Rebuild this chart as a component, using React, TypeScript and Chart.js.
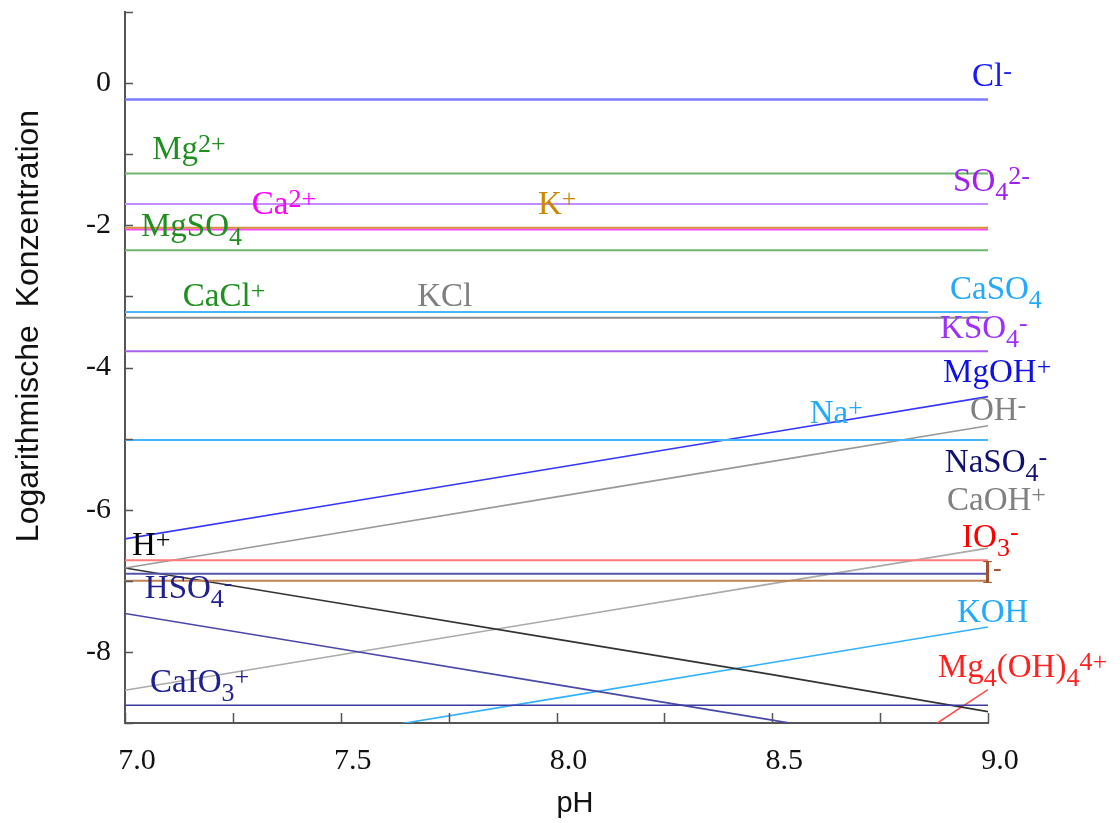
import React, { useEffect, useRef } from 'react';
import { Chart, registerables } from 'chart.js';

Chart.register(...registerables);

// ---------- data ----------
const pH = [7.0, 7.5, 8.0, 8.5, 9.0];
const xTickLabels = ['7.0', '7.5', '8.0', '8.5', '9.0'];
const yTickLabels = ['0', '-2', '-4', '-6', '-8'];

const clMinus = [-0.23, -0.23, -0.23, -0.23, -0.23];
const mg2Plus = [-1.27, -1.27, -1.27, -1.27, -1.27];
const so4_2Minus = [-1.7, -1.7, -1.7, -1.7, -1.7];
const kPlus = [-2.035, -2.035, -2.035, -2.035, -2.035];
const ca2Plus = [-2.06, -2.06, -2.06, -2.06, -2.06];
const mgSO4 = [-2.35, -2.35, -2.35, -2.35, -2.35];
const caSO4 = [-3.22, -3.22, -3.22, -3.22, -3.22];
const kCl = [-3.3, -3.3, -3.3, -3.3, -3.3];
const kSO4Minus = [-3.77, -3.77, -3.77, -3.77, -3.77];
const naPlus = [-5.02, -5.02, -5.02, -5.02, -5.02];
const io3Minus = [-6.71, -6.71, -6.71, -6.71, -6.71];
const naSO4Minus = [-6.9, -6.9, -6.9, -6.9, -6.9];
const iMinus = [-7.0, -7.0, -7.0, -7.0, -7.0];
const caIO3Plus = [-8.75, -8.75, -8.75, -8.75, -8.75];
const mgOHPlus = [-6.41, -5.91, -5.41, -4.91, -4.41];
const ohMinus = [-6.82, -6.32, -5.82, -5.32, -4.82];
const hPlus = [-6.82, -7.32, -7.82, -8.32, -8.84];
const hso4Minus = [-7.46, -7.96, -8.46, -8.96, -9.46];
const caOHPlus = [-8.54, -8.04, -7.54, -7.04, -6.54];
const kOH = [-9.65, -9.15, -8.65, -8.15, -7.65];
const mg4OH4 = [null, null, null, -10.53, -8.53];

// ---------- series styling ----------
const series = [
  { name: 'Cl-', data: clMinus, color: '#7b7bff', width: 2.5 },
  { name: 'Mg2+', data: mg2Plus, color: '#6fb46f', width: 2 },
  { name: 'SO4 2-', data: so4_2Minus, color: '#c38cff', width: 2 },
  { name: 'K+', data: kPlus, color: '#d4903a', width: 2 },
  { name: 'Ca2+', data: ca2Plus, color: '#ff44ff', width: 2 },
  { name: 'MgSO4', data: mgSO4, color: '#6fb46f', width: 2 },
  { name: 'KCl', data: kCl, color: '#8a8a8a', width: 2 },
  { name: 'CaSO4', data: caSO4, color: '#4ab4ff', width: 2 },
  { name: 'KSO4-', data: kSO4Minus, color: '#a860f0', width: 2 },
  { name: 'Na+', data: naPlus, color: '#44b4ff', width: 2 },
  { name: 'IO3-', data: io3Minus, color: '#ff7a7a', width: 2 },
  { name: 'NaSO4-', data: naSO4Minus, color: '#5555aa', width: 2 },
  { name: 'I-', data: iMinus, color: '#c0804f', width: 2 },
  { name: 'CaIO3+', data: caIO3Plus, color: '#3a3aa0', width: 1.5 },
  { name: 'MgOH+', data: mgOHPlus, color: '#3535ff', width: 1.6 },
  { name: 'OH-', data: ohMinus, color: '#999999', width: 1.6 },
  { name: 'H+', data: hPlus, color: '#333333', width: 1.6 },
  { name: 'HSO4-', data: hso4Minus, color: '#4848a8', width: 1.6 },
  { name: 'CaOH+', data: caOHPlus, color: '#aaaaaa', width: 1.6 },
  { name: 'KOH', data: kOH, color: '#33b0ff', width: 1.6 },
  { name: 'Mg4(OH)4 4+', data: mg4OH4, color: '#ff4a4a', width: 1.6 },
];

// ---------- species labels (markup: _{sub} ^{sup}), anchored left/baseline in data units ----------
const speciesLabels = [
  { text: 'Mg^{2+}', x: 7.063, y: -1.066, color: '#1f8f1f' },
  { text: 'Ca^{2+}', x: 7.294, y: -1.84, color: '#ff00ff' },
  { text: 'K^{+}', x: 7.957, y: -1.84, color: '#cc8800' },
  { text: 'MgSO_{4}', x: 7.037, y: -2.147, color: '#1f8f1f' },
  { text: 'CaCl^{+}', x: 7.134, y: -3.13, color: '#1f8f1f' },
  { text: 'KCl', x: 7.677, y: -3.13, color: '#808080' },
  { text: 'Cl^{-}', x: 8.963, y: -0.04, color: '#1a1aff' },
  { text: 'SO_{4}^{2-}', x: 8.919, y: -1.516, color: '#a020f0' },
  { text: 'CaSO_{4}', x: 8.912, y: -3.03, color: '#22aaff' },
  { text: 'KSO_{4}^{-}', x: 8.889, y: -3.59, color: '#9b30ff' },
  { text: 'MgOH^{+}', x: 8.896, y: -4.21, color: '#1010e0' },
  { text: 'Na^{+}', x: 8.587, y: -4.786, color: '#22aaff' },
  { text: 'OH^{-}', x: 8.958, y: -4.74, color: '#808080' },
  { text: 'NaSO_{4}^{-}', x: 8.9, y: -5.47, color: '#101070' },
  { text: 'CaOH^{+}', x: 8.905, y: -6.007, color: '#808080' },
  { text: 'IO_{3}^{-}', x: 8.94, y: -6.53, color: '#ff0000' },
  { text: 'I^{-}', x: 8.986, y: -7.03, color: '#a0522d' },
  { text: 'KOH', x: 8.928, y: -7.58, color: '#22aaff' },
  { text: 'Mg_{4}(OH)_{4}^{4+}', x: 8.884, y: -8.35, color: '#ff2020' },
  { text: 'H^{+}', x: 7.016, y: -6.64, color: '#000000' },
  { text: 'HSO_{4}^{-}', x: 7.046, y: -7.24, color: '#202090' },
  { text: 'CaIO_{3}^{+}', x: 7.058, y: -8.56, color: '#202090' },
];

const xTitle = 'pH';
const yTitle = 'Logarithmische  Konzentration';

const SERIF = '"Liberation Serif", "Times New Roman", serif';
const SANS = '"Liberation Sans", Arial, sans-serif';

type Seg = { text: string; kind: 'n' | 'sub' | 'sup' };
function parseMarkup(s: string): Seg[] {
  const segs: Seg[] = [];
  let cur = '';
  let i = 0;
  while (i < s.length) {
    const c = s[i];
    if ((c === '_' || c === '^') && s[i + 1] === '{') {
      if (cur) { segs.push({ text: cur, kind: 'n' }); cur = ''; }
      const end = s.indexOf('}', i);
      segs.push({ text: s.slice(i + 2, end), kind: c === '_' ? 'sub' : 'sup' });
      i = end + 1;
    } else {
      cur += c;
      i++;
    }
  }
  if (cur) segs.push({ text: cur, kind: 'n' });
  return segs;
}

const decorPlugin = {
  id: 'decor',
  afterDraw(chart: any) {
    const { ctx, chartArea, scales } = chart;
    const xs = scales.x;
    const ys = scales.y;
    ctx.save();
    // inward tick marks
    ctx.strokeStyle = '#555555';
    ctx.lineWidth = 1.5;
    ctx.beginPath();
    for (const t of ys.ticks) {
      const py = Math.round(ys.getPixelForValue(t.value)) + 0.5;
      ctx.moveTo(chartArea.left, py);
      ctx.lineTo(chartArea.left + 8, py);
    }
    for (const t of xs.ticks) {
      const px = Math.round(xs.getPixelForValue(t.value)) + 0.5;
      ctx.moveTo(px, chartArea.bottom);
      ctx.lineTo(px, chartArea.bottom - 10);
    }
    ctx.stroke();

    // species labels
    ctx.textBaseline = 'alphabetic';
    ctx.textAlign = 'left';
    for (const lab of speciesLabels) {
      let px = xs.getPixelForValue(lab.x);
      const py = ys.getPixelForValue(lab.y);
      ctx.fillStyle = lab.color;
      for (const seg of parseMarkup(lab.text)) {
        let dy = 0;
        if (seg.kind === 'n') ctx.font = `33px ${SERIF}`;
        else ctx.font = `26px ${SERIF}`;
        if (seg.kind === 'sub') dy = 9;
        if (seg.kind === 'sup') dy = -7;
        ctx.fillText(seg.text, px, py + dy);
        px += ctx.measureText(seg.text).width;
      }
    }

    // axis titles
    ctx.fillStyle = '#111111';
    ctx.textAlign = 'center';
    ctx.textBaseline = 'middle';
    ctx.font = `29px ${SANS}`;
    ctx.fillText(xTitle, 575, 804);
    ctx.font = `32px ${SANS}`;
    ctx.translate(29, 326);
    ctx.rotate(-Math.PI / 2);
    ctx.fillText(yTitle, 0, 0);
    ctx.restore();
  },
};

export default function App() {
  const ref = useRef<HTMLCanvasElement>(null);
  useEffect(() => {
    const canvas = ref.current;
    if (!canvas) return;
    const chart = new Chart(canvas, {
      type: 'line',
      data: {
        datasets: series.map((s) => ({
          label: s.name,
          data: pH.map((x, i) => ({ x, y: s.data[i] as any })),
          borderColor: s.color,
          backgroundColor: s.color,
          borderWidth: s.width,
          pointRadius: 0,
          tension: 0,
          fill: false,
          spanGaps: false,
        })),
      },
      options: {
        responsive: false,
        animation: false,
        events: [],
        layout: { padding: { top: 12, right: 132, left: 0, bottom: 0 } },
        plugins: { legend: { display: false }, tooltip: { enabled: false }, title: { display: false } },
        scales: {
          x: {
            type: 'linear',
            min: 7,
            max: 9,
            afterFit: (s: any) => { s.height = 100; s.paddingLeft = 0; s.paddingRight = 0; },
            grid: { display: true, drawOnChartArea: false, drawTicks: false },
            border: { display: true, color: '#555555', width: 2 },
            ticks: {
              stepSize: 0.25,
              autoSkip: false,
              maxRotation: 0,
              labelOffset: 12,
              padding: 20,
              color: '#111111',
              font: { family: SERIF, size: 30 },
              callback: (v: any) => {
                const n = Number(v);
                const s = n.toFixed(1);
                return Math.abs(n * 2 - Math.round(n * 2)) < 1e-6 && xTickLabels.includes(s) ? s : '';
              },
            },
          },
          y: {
            type: 'linear',
            min: -9,
            max: 1,
            afterFit: (s: any) => { s.width = 125; s.paddingTop = 0; s.paddingBottom = 0; },
            grid: { display: true, drawOnChartArea: false, drawTicks: false },
            border: { display: true, color: '#555555', width: 2 },
            ticks: {
              stepSize: 1,
              autoSkip: false,
              padding: 14,
              color: '#111111',
              font: { family: SERIF, size: 30 },
              callback: (v: any) => {
                const s = String(Math.round(Number(v)));
                return yTickLabels.includes(s) ? s : '';
              },
            },
          },
        },
      },
      plugins: [decorPlugin],
    });
    return () => chart.destroy();
  }, []);
  return (
    <div style={{ position: 'absolute', left: 0, top: 0, width: 1120, height: 823, background: '#ffffff' }}>
      <canvas ref={ref} width={1120} height={823} style={{ display: 'block', width: 1120, height: 823 }} />
    </div>
  );
}
